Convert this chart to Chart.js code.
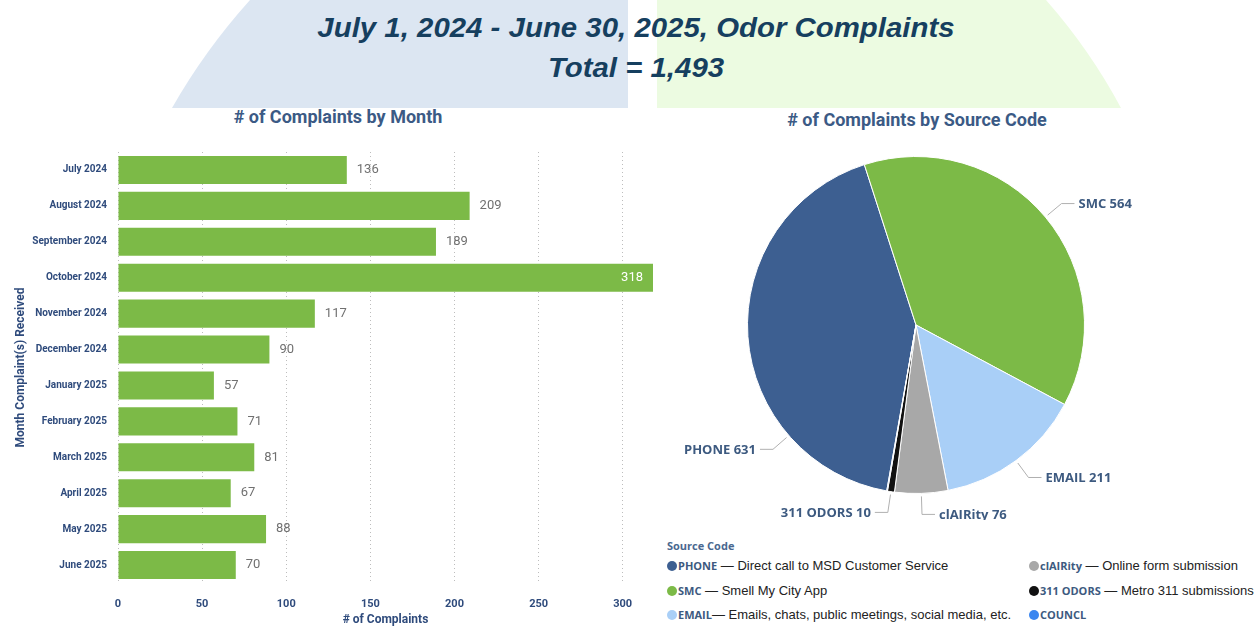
<!DOCTYPE html>
<html>
<head>
<meta charset="utf-8">
<script src="https://cdn.jsdelivr.net/npm/chart.js@4.4.1/dist/chart.umd.min.js"></script>
<style>
  html, body { margin: 0; padding: 0; background: #fff; }
  body { width: 1254px; height: 626px; position: relative; overflow: hidden; font-family: Roboto, "Liberation Sans", sans-serif; }
  #bg { position: absolute; left: 0; top: 0; }
  .main-title { position: absolute; left: 9px; width: 1254px; text-align: center; font-family: "Liberation Sans", Arial, sans-serif; font-weight: bold; font-style: italic; font-size: 28px; color: #163f5f; transform: scaleX(1.05); }
  .sub-title { position: absolute; font-family: Roboto, sans-serif; font-weight: bold; font-size: 18px; color: #3b5a85; text-align: center; white-space: nowrap; }
  #barWrap { position: absolute; left: 0; top: 135px; width: 665px; height: 491px; }
  #pieWrap { position: absolute; left: 660px; top: 140px; width: 594px; height: 380px; }
  #legend { position: absolute; left: 667px; top: 538px; width: 590px; }
  #legend .head { font-family: "Open Sans", sans-serif; font-weight: bold; font-size: 11px; color: #4a6890; margin-bottom: 5px; }
  #legend .row { position: absolute; white-space: nowrap; font-family: "Liberation Sans", Arial, sans-serif; font-size: 13px; color: #222; }
  #legend .dot { display: inline-block; width: 10px; height: 10px; border-radius: 50%; vertical-align: -1px; margin-right: 1px; }
  #legend .code { font-family: "Open Sans", sans-serif; font-weight: bold; font-size: 11px; color: #3d5a80; }
</style>
</head>
<body>
<svg id="bg" width="1254" height="626">
  <path d="M250 0 L628 0 L628 108 L172 108 Q205 50 250 0 Z" fill="#dce6f2"/>
  <path d="M657 0 L1046 0 Q1090 50 1121 108 L657 108 Z" fill="#ecfbe1"/>
</svg>
<div class="main-title" style="top:12px;">July 1, 2024 - June 30, 2025, Odor Complaints</div>
<div class="main-title" style="top:52px;">Total = 1,493</div>
<div class="sub-title" style="left:188px; width:300px; top:106px;"># of Complaints by Month</div>
<div class="sub-title" style="left:767px; width:300px; top:109px;"># of Complaints by Source Code</div>
<div id="barWrap"><canvas id="barChart"></canvas></div>
<div id="pieWrap"><canvas id="pieChart"></canvas></div>
<div id="legend"></div>
<script>
const months = ["July 2024", "August 2024", "September 2024", "October 2024", "November 2024", "December 2024",
  "January 2025", "February 2025", "March 2025", "April 2025", "May 2025", "June 2025"];
const monthCounts = [136, 209, 189, 318, 117, 90, 57, 71, 81, 67, 88, 70];

const sources = ["PHONE", "SMC", "EMAIL", "clAIRity", "311 ODORS", "COUNCL"];
const sourceCounts = [631, 564, 211, 76, 10, 1];
const sourceColors = ["#3d5f91", "#7cba47", "#a9cff7", "#a8a8a8", "#111111", "#3a86f0"];
const sourceNotes = ["Direct call to MSD Customer Service", "Smell My City App",
  "Emails, chats, public meetings, social media, etc.", "Online form submission", "Metro 311 submissions", ""];

const navy = "#2f4b7c";

// value labels at the end of each bar
const barValueLabels = {
  id: "barValueLabels",
  afterDatasetsDraw(chart) {
    const ctx = chart.ctx;
    const meta = chart.getDatasetMeta(0);
    ctx.save();
    ctx.font = "13px Roboto";
    ctx.textBaseline = "middle";
    meta.data.forEach((bar, i) => {
      const txt = String(chart.data.datasets[0].data[i]);
      const w = ctx.measureText(txt).width;
      if (bar.x + 10 + w > chart.chartArea.right) {
        ctx.fillStyle = "#ffffff";
        ctx.textAlign = "right";
        ctx.fillText(txt, bar.x - 10, bar.y);
      } else {
        ctx.fillStyle = "#707070";
        ctx.textAlign = "left";
        ctx.fillText(txt, bar.x + 10, bar.y);
      }
    });
    ctx.restore();
  }
};

// outside labels with leader lines for the pie
const pieLabels = {
  id: "pieLabels",
  afterDatasetsDraw(chart, args, opts) {
    const ctx = chart.ctx;
    const meta = chart.getDatasetMeta(0);
    ctx.save();
    ctx.font = "bold 13px 'Open Sans'";
    ctx.textBaseline = "middle";
    meta.data.forEach((arc, i) => {
      const v = chart.data.datasets[0].data[i];
      if (v < opts.minValue) return;
      const p = arc.getProps(["x", "y", "startAngle", "endAngle", "outerRadius"], true);
      const name = chart.data.labels[i];
      let a = (p.startAngle + p.endAngle) / 2;
      if (opts.angles[name] !== undefined) a = (opts.angles[name] - 90) * Math.PI / 180;
      const cos = Math.cos(a), sin = Math.sin(a);
      const x1 = p.x + (p.outerRadius + 3) * cos, y1 = p.y + (p.outerRadius + 3) * sin;
      const x2 = p.x + (p.outerRadius + 21) * cos, y2 = p.y + (p.outerRadius + 21) * sin;
      const side = cos >= 0 ? 1 : -1;
      const x3 = x2 + side * 13;
      ctx.strokeStyle = "#b0b0b0";
      ctx.lineWidth = 1;
      ctx.beginPath();
      ctx.moveTo(x1, y1);
      ctx.lineTo(x2, y2);
      ctx.lineTo(x3, y2);
      ctx.stroke();
      ctx.fillStyle = "#3d5a80";
      ctx.textAlign = side > 0 ? "left" : "right";
      ctx.fillText(name + " " + v, x3 + side * 4, y2 + 1);
    });
    ctx.restore();
  }
};

new Chart(document.getElementById("barChart"), {
  type: "bar",
  data: {
    labels: months,
    datasets: [{
      data: monthCounts,
      backgroundColor: "#7cba47",
      barPercentage: 0.78,
      categoryPercentage: 1.0
    }]
  },
  options: {
    indexAxis: "y",
    responsive: true,
    maintainAspectRatio: false,
    animation: false,
    layout: { padding: { top: 6, right: 12, left: 0, bottom: 0 } },
    plugins: { legend: { display: false }, tooltip: { enabled: false } },
    scales: {
      x: {
        min: 0,
        max: 318,
        border: { display: false, dash: [1, 3] },
        grid: { color: "#bdbdbd", drawTicks: false },
        ticks: { stepSize: 50, includeBounds: false, padding: 15, color: navy, font: { family: "Roboto", weight: "bold", size: 11 } },
        title: { display: true, text: "# of Complaints", color: navy, padding: { top: 0, bottom: -1 }, font: { family: "Roboto", weight: "bold", size: 12 } },
        afterFit(scale) { scale.height = 43; }
      },
      y: {
        border: { display: false },
        grid: { display: false, drawTicks: false },
        ticks: { padding: 11, color: navy, font: { family: "Roboto", weight: "bold", size: 10 } },
        title: { display: true, text: "Month Complaint(s) Received", color: navy, padding: { top: 14, bottom: 0 }, font: { family: "Roboto", weight: "bold", size: 12 } },
        afterFit(scale) { scale.width = 118; }
      }
    }
  },
  plugins: [barValueLabels]
});

new Chart(document.getElementById("pieChart"), {
  type: "pie",
  data: {
    labels: sources,
    datasets: [{
      data: sourceCounts,
      backgroundColor: sourceColors,
      borderColor: "#ffffff",
      borderWidth: 1
    }]
  },
  options: {
    responsive: true,
    maintainAspectRatio: false,
    animation: false,
    rotation: 190,
    layout: { padding: { left: 87, right: 169, top: 16, bottom: 26 } },
    plugins: {
      legend: { display: false },
      tooltip: { enabled: false },
      pieLabels: { minValue: 5, angles: { PHONE: 229 } }
    }
  },
  plugins: [pieLabels]
});

// legend below the pie
const legend = document.getElementById("legend");
legend.innerHTML = '<div class="head">Source Code</div>';
const legendOrder = [0, 1, 2, 3, 4, 5];
legendOrder.forEach((i, k) => {
  const col = k < 3 ? 0 : 1;
  const row = k % 3;
  const div = document.createElement("div");
  div.className = "row";
  div.style.left = (col * 362) + "px";
  div.style.top = (20 + row * 24.5) + "px";
  const note = sourceNotes[i] ? (i === 2 ? "— " : " — ") + sourceNotes[i] : "";
  div.innerHTML = '<span class="dot" style="background:' + sourceColors[i] + '"></span>' +
    '<span class="code">' + sources[i] + '</span>' + note;
  legend.appendChild(div);
});
</script>
</body>
</html>
